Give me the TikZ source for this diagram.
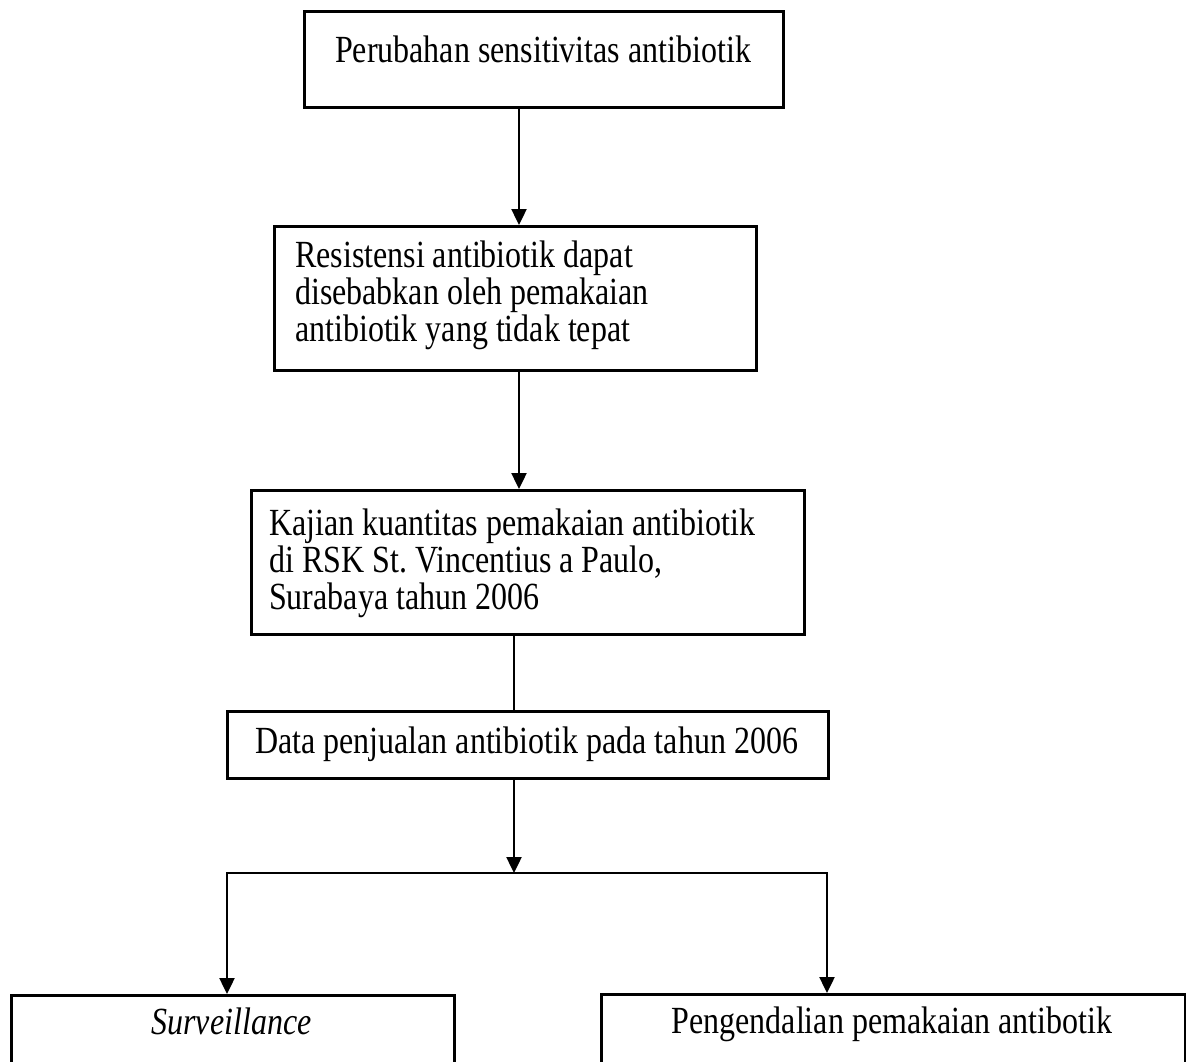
\documentclass[tikz,border=0pt]{standalone}
\usepackage{fontspec}
\setmainfont{Liberation Serif}
\usetikzlibrary{arrows.meta}
\newcommand{\vst}[1]{\scalebox{1}[1.2]{#1}}
\begin{document}
\frenchspacing
\begin{tikzpicture}[x=1pt,y=-1pt,
  box/.style={draw, line width=2.8pt, inner sep=0pt, anchor=north west},
  txt/.style={inner sep=0pt, font=\fontsize{32}{29.2}\selectfont},
  conn/.style={line width=2.4pt},
  arr/.style={conn, -{Triangle[length=16pt,width=15pt]}}]
\clip (0,0) rectangle (1186,1061);
\fill[white] (0,0) rectangle (1186,1061);
% boxes
\node[box, minimum width=479pt, minimum height=96pt] (b1) at (303,10) {};
\node[box, minimum width=482pt, minimum height=144pt] (b2) at (273,225) {};
\node[box, minimum width=553pt, minimum height=144pt] (b3) at (250,489) {};
\node[box, minimum width=601pt, minimum height=67pt] (b4) at (226,710) {};
\node[box, minimum width=443pt, minimum height=100pt] (b5) at (10,994) {};
\node[box, minimum width=584pt, minimum height=100pt] (b6) at (600,993) {};
% texts
\node[txt, anchor=base] (t1) at (543,62) {\vst{Perubahan sensitivitas antibiotik}};
\node[txt, anchor=base west] (t2) at (295,267)
  {\vst{\begin{tabular}[t]{@{}l@{}}Resistensi antibiotik dapat\\disebabkan oleh pemakaian\\antibiotik yang tidak tepat\end{tabular}}};
\node[txt, anchor=base west] (t3) at (269,535)
  {\vst{\begin{tabular}[t]{@{}l@{}}Kajian kuantitas pemakaian antibiotik\\di RSK St. Vincentius a Paulo,\\Surabaya tahun 2006\end{tabular}}};
\node[txt, anchor=base] (t4) at (526.5,753) {\vst{Data penjualan antibiotik pada tahun 2006}};
\node[txt, anchor=base] (t5) at (231.5,1034) {\vst{\itshape Surveillance}};
\node[txt, anchor=base] (t6) at (892,1033) {\vst{Pengendalian pemakaian antibotik}};
% connectors
\coordinate (xa) at (519,0);
\coordinate (xb) at (514,0);
\coordinate (split) at (514,873);
\coordinate (xl) at (227,873);
\coordinate (xr) at (827,873);
\draw[arr] (xa |- b1.south) -- (xa |- b2.north);
\draw[arr] (xa |- b2.south) -- (xa |- b3.north);
\draw[conn] (xb |- b3.south) -- (xb |- b4.north);
\draw[arr] (xb |- b4.south) -- (split);
\draw[arr] (xr) -- (xl) -- (xl |- b5.north);
\draw[arr] (xl) -- (xr) -- (xr |- b6.north);
\end{tikzpicture}
\end{document}
